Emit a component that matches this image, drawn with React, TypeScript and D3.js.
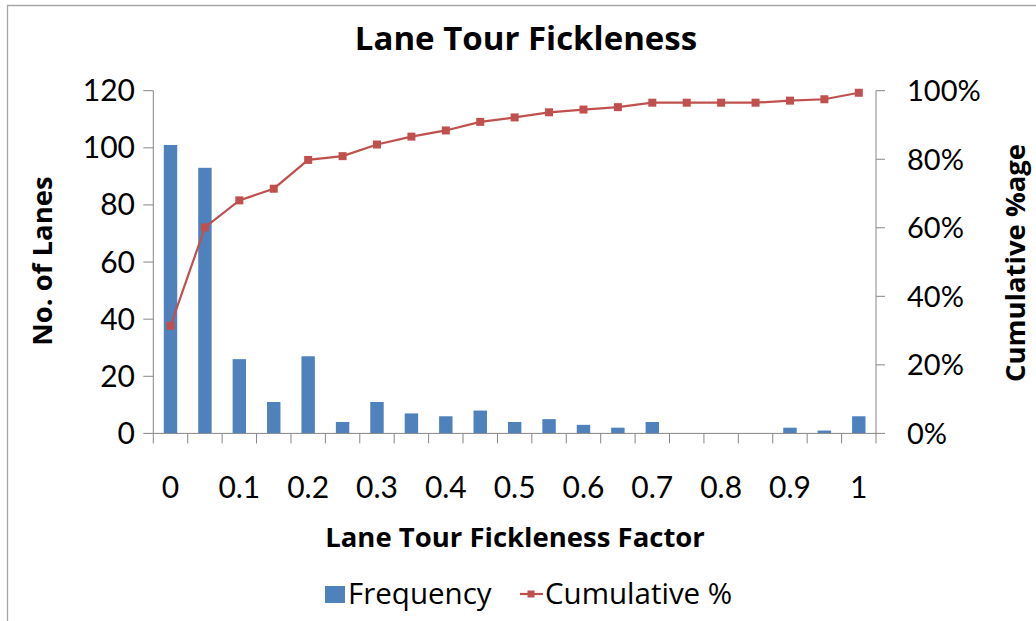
import React from "react";
import * as d3 from "d3";

const categories = ["0","0.05","0.1","0.15","0.2","0.25","0.3","0.35","0.4","0.45","0.5","0.55","0.6","0.65","0.7","0.75","0.8","0.85","0.9","0.95","1"];
const frequency = [101, 93, 26, 11, 27, 4, 11, 7, 6, 8, 4, 5, 3, 2, 4, 0, 0, 0, 2, 1, 6];
const cumulative = [0.314, 0.601, 0.68, 0.714, 0.798, 0.809, 0.843, 0.866, 0.884, 0.909, 0.922, 0.937, 0.945, 0.952, 0.965, 0.965, 0.965, 0.965, 0.971, 0.975, 0.994];
const leftTicks = [0, 20, 40, 60, 80, 100, 120];
const rightTicks = [0, 0.2, 0.4, 0.6, 0.8, 1];
const xLabelCats = ["0","0.1","0.2","0.3","0.4","0.5","0.6","0.7","0.8","0.9","1"];

const W = 1036, H = 621;
const plotL = 153.3, plotR = 876, plotT = 90.7, plotB = 433.4;
const FONT = "Lato, 'Open Sans', sans-serif";
const FONT2 = "'Open Sans', Lato, sans-serif";
const BLUE = "#4F81BD";
const RED = "#C0504D";
const AXIS = "#868686";

export default function App() {
  const x = d3.scaleBand<string>().domain(categories).range([plotL, plotR]).paddingInner(0).paddingOuter(0);
  const yL = d3.scaleLinear().domain([0, 120]).range([plotB, plotT]);
  const yR = d3.scaleLinear().domain([0, 1]).range([plotB, plotT]);
  const bw = x.bandwidth() * 0.39;
  const line = d3.line<number>()
    .x((_, i) => (x(categories[i]) as number) + x.bandwidth() / 2)
    .y((d) => yR(d));
  const tickEdges = categories.map((c) => x(c) as number).concat([plotR]);

  return (
    <svg width={W} height={H} style={{ position: "absolute", left: 0, top: 0, background: "#fff" }} fontFamily={FONT}>
      <rect x={0} y={0} width={W} height={H} fill="#fff" />
      {/* chart border */}
      <path d={`M7.5,${H + 5} V5.5 H${W + 5}`} fill="none" stroke="#A6A6A6" strokeWidth={1.3} />

      {/* title */}
      <text x={526} y={50} textAnchor="middle" fontSize={33} fontWeight={700} fontFamily={FONT2} fill="#000">Lane Tour Fickleness</text>

      {/* bars */}
      {frequency.map((v, i) => {
        const cx = (x(categories[i]) as number) + x.bandwidth() / 2;
        return <rect key={i} x={cx - bw / 2} y={yL(v)} width={bw} height={plotB - yL(v)} fill={BLUE} />;
      })}

      {/* left axis */}
      <line x1={plotL} x2={plotL} y1={plotT} y2={plotB} stroke={AXIS} strokeWidth={1} />
      {leftTicks.map((t) => (
        <g key={t}>
          <line x1={plotL - 10} x2={plotL} y1={yL(t)} y2={yL(t)} stroke={AXIS} />
          <text x={135} y={yL(t) + 10.5} textAnchor="end" fontSize={30} fill="#000">{t}</text>
        </g>
      ))}

      {/* right axis */}
      <line x1={plotR} x2={plotR} y1={plotT} y2={plotB} stroke={AXIS} strokeWidth={1} />
      {rightTicks.map((t) => (
        <g key={t}>
          <line x1={plotR} x2={plotR + 9} y1={yR(t)} y2={yR(t)} stroke={AXIS} />
          <text x={907} y={yR(t) + 10.5} textAnchor="start" fontSize={29} fill="#000">{d3.format(".0%")(t)}</text>
        </g>
      ))}

      {/* x axis */}
      <line x1={plotL} x2={plotR} y1={plotB} y2={plotB} stroke={AXIS} strokeWidth={1} />
      {tickEdges.map((e, i) => (
        <line key={i} x1={e} x2={e} y1={plotB} y2={plotB + 10} stroke={AXIS} />
      ))}
      {xLabelCats.map((c) => (
        <text key={c} x={(x(c) as number) + x.bandwidth() / 2} y={498} textAnchor="middle" fontSize={30} fill="#000">{c}</text>
      ))}

      {/* cumulative line */}
      <path d={line(cumulative) || ""} fill="none" stroke={RED} strokeWidth={2.2} />
      {cumulative.map((v, i) => {
        const cx = (x(categories[i]) as number) + x.bandwidth() / 2;
        return <rect key={i} x={cx - 4} y={yR(v) - 4} width={8} height={8} fill={RED} />;
      })}

      {/* axis titles */}
      <text transform={`translate(52,261) rotate(-90)`} textAnchor="middle" fontSize={27.5} fontWeight={700} fontFamily={FONT2} fill="#000">No. of Lanes</text>
      <text transform={`translate(1025,263) rotate(-90)`} textAnchor="middle" fontSize={27.5} fontWeight={700} fontFamily={FONT2} fill="#000">Cumulative %age</text>
      <text x={515} y={547} textAnchor="middle" fontSize={27.5} fontWeight={700} fontFamily={FONT2} fill="#000">Lane Tour Fickleness Factor</text>

      {/* legend */}
      <rect x={325} y={586} width={20} height={17} fill={BLUE} />
      <text x={348} y={604} fontSize={29.5} fontFamily={FONT2} fill="#000">Frequency</text>
      <line x1={520} x2={543} y1={594} y2={594} stroke={RED} strokeWidth={2.2} />
      <rect x={527.5} y={590.5} width={7} height={7} fill={RED} />
      <text x={545} y={604} fontSize={29.5} fontFamily={FONT2} fill="#000">Cumulative %</text>
    </svg>
  );
}
